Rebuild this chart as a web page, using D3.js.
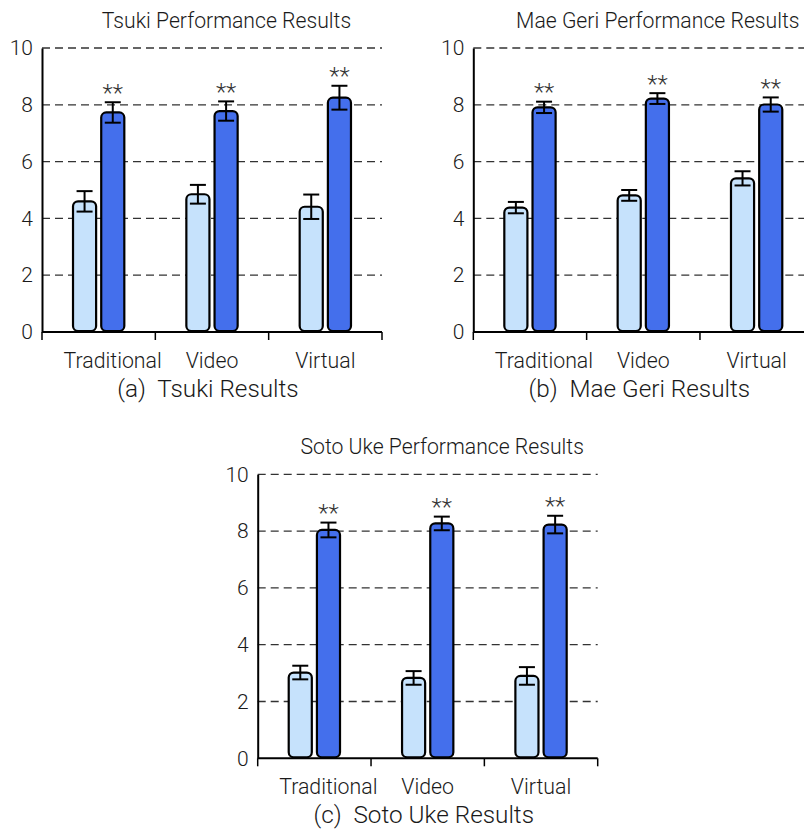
<!DOCTYPE html>
<html>
<head>
<meta charset="utf-8">
<script src="https://cdn.jsdelivr.net/npm/d3@7"></script>
<style>
  body { margin: 0; background: #fff; }
  text { font-family: Roboto, Lato, sans-serif; font-weight: 300; fill: #1a1a1a; }
</style>
</head>
<body>
<div id="chart"></div>
<script>
// Data
var categories = ["Traditional", "Video", "Virtual"];
var groups = ["control", "experimental"];
var yTicks = [0, 2, 4, 6, 8, 10];

var tsukiControl = [4.60, 4.85, 4.41];
var tsukiControlErr = [0.36, 0.33, 0.43];
var tsukiExp = [7.73, 7.78, 8.25];
var tsukiExpErr = [0.36, 0.34, 0.42];

var maeControl = [4.38, 4.81, 5.41];
var maeControlErr = [0.20, 0.19, 0.25];
var maeExp = [7.91, 8.22, 8.01];
var maeExpErr = [0.20, 0.19, 0.25];

var sotoControl = [3.02, 2.83, 2.90];
var sotoControlErr = [0.24, 0.24, 0.31];
var sotoExp = [8.04, 8.27, 8.23];
var sotoExpErr = [0.26, 0.24, 0.31];

var significance = ["**", "**", "**"];

// Layout
var width = 804;
var height = 829;
var plotW = 340;
var plotH = 284;
var colors = {control: "#c6e2fc", experimental: "#446fec"};

var svg = d3.select("#chart").append("svg")
  .attr("width", width)
  .attr("height", height);

function drawPanel(left, top, title, caption, control, controlErr, exp, expErr) {
  var g = svg.append("g").attr("transform", "translate(" + left + "," + top + ")");

  var x0 = d3.scaleBand().domain(categories).range([0, plotW]);
  var x1 = d3.scaleBand().domain(groups).range([0, 53.3]).paddingInner(0.11);
  var groupOffset = (x0.bandwidth() - 53.3) / 2;
  var y = d3.scaleLinear().domain([0, 10]).range([plotH, 0]);

  // dashed grid lines
  g.selectAll(".grid")
    .data(yTicks.filter(function(d) { return d > 0; }))
    .enter().append("line")
    .attr("x1", 0).attr("x2", plotW)
    .attr("y1", function(d) { return y(d); })
    .attr("y2", function(d) { return y(d); })
    .style("stroke", "#333")
    .style("stroke-width", 1.3)
    .style("stroke-dasharray", "8,5");

  // bars
  var rows = categories.map(function(c, i) {
    return [
      {cat: c, group: "control", value: control[i], err: controlErr[i]},
      {cat: c, group: "experimental", value: exp[i], err: expErr[i], sig: significance[i]}
    ];
  });
  var bars = d3.merge(rows);

  g.selectAll(".bar")
    .data(bars)
    .enter().append("rect")
    .attr("x", function(d) { return x0(d.cat) + groupOffset + x1(d.group) + 1; })
    .attr("y", function(d) { return y(d.value); })
    .attr("width", x1.bandwidth() - 2)
    .attr("height", function(d) { return y(0) - y(d.value) - 1; })
    .attr("rx", 5).attr("ry", 5)
    .style("fill", function(d) { return colors[d.group]; })
    .style("stroke", "#000")
    .style("stroke-width", 2.2);

  // error bars
  var cx = function(d) { return x0(d.cat) + groupOffset + x1(d.group) + x1.bandwidth() / 2; };
  var eb = g.selectAll(".err").data(bars).enter().append("g");
  eb.append("line")
    .attr("x1", cx).attr("x2", cx)
    .attr("y1", function(d) { return y(d.value + d.err); })
    .attr("y2", function(d) { return y(d.value - d.err); });
  eb.append("line")
    .attr("x1", function(d) { return cx(d) - 8; }).attr("x2", function(d) { return cx(d) + 8; })
    .attr("y1", function(d) { return y(d.value + d.err); })
    .attr("y2", function(d) { return y(d.value + d.err); });
  eb.append("line")
    .attr("x1", function(d) { return cx(d) - 8; }).attr("x2", function(d) { return cx(d) + 8; })
    .attr("y1", function(d) { return y(d.value - d.err); })
    .attr("y2", function(d) { return y(d.value - d.err); });
  eb.selectAll("line").style("stroke", "#000").style("stroke-width", 2);

  // significance stars
  g.selectAll(".sig")
    .data(bars.filter(function(d) { return d.sig; }))
    .enter().append("text")
    .attr("x", cx)
    .attr("y", function(d) { return y(d.value + d.err) - 1.5; })
    .attr("text-anchor", "middle")
    .style("font-size", "24px")
    .style("fill", "#333")
    .text(function(d) { return d.sig; });

  // axes
  var yAxis = g.append("g").call(d3.axisLeft(y).tickValues(yTicks).tickSize(0).tickPadding(9));
  yAxis.select(".domain").style("stroke", "#000").style("stroke-width", 2);
  yAxis.selectAll("text").style("font-size", "21px").style("fill", "#1a1a1a").style("font-family", null);

  var xAxis = g.append("g").attr("transform", "translate(0," + plotH + ")");
  xAxis.append("line")
    .attr("x1", 0).attr("x2", plotW).attr("y1", 0).attr("y2", 0)
    .style("stroke", "#000").style("stroke-width", 2);
  xAxis.selectAll(".tick")
    .data(d3.range(categories.length + 1))
    .enter().append("line")
    .attr("x1", function(i) { return i * x0.step(); })
    .attr("x2", function(i) { return i * x0.step(); })
    .attr("y1", 0).attr("y2", 8)
    .style("stroke", "#000").style("stroke-width", 1.5);
  xAxis.selectAll(".label")
    .data(categories)
    .enter().append("text")
    .attr("x", function(d, i) { return x0(d) + x0.bandwidth() / 2 + (i === 0 ? 14 : 0); })
    .attr("y", 36)
    .attr("text-anchor", "middle")
    .style("font-size", "21.3px")
    .text(function(d) { return d; });

  // title and caption
  g.append("text")
    .attr("x", 184.5).attr("y", -20)
    .attr("text-anchor", "middle")
    .style("font-size", "21.2px")
    .text(title);
  g.append("text")
    .attr("x", 166).attr("y", plotH + 65)
    .attr("text-anchor", "middle")
    .attr("xml:space", "preserve")
    .style("font-size", "24.3px")
    .style("white-space", "pre")
    .text(caption);
}

drawPanel(42, 48, "Tsuki Performance Results", "(a)  Tsuki Results",
  tsukiControl, tsukiControlErr, tsukiExp, tsukiExpErr);
drawPanel(473.3, 48, "Mae Geri Performance Results", "(b)  Mae Geri Results",
  maeControl, maeControlErr, maeExp, maeExpErr);
drawPanel(257.7, 474.3, "Soto Uke Performance Results", "(c)  Soto Uke Results",
  sotoControl, sotoControlErr, sotoExp, sotoExpErr);
</script>
</body>
</html>
